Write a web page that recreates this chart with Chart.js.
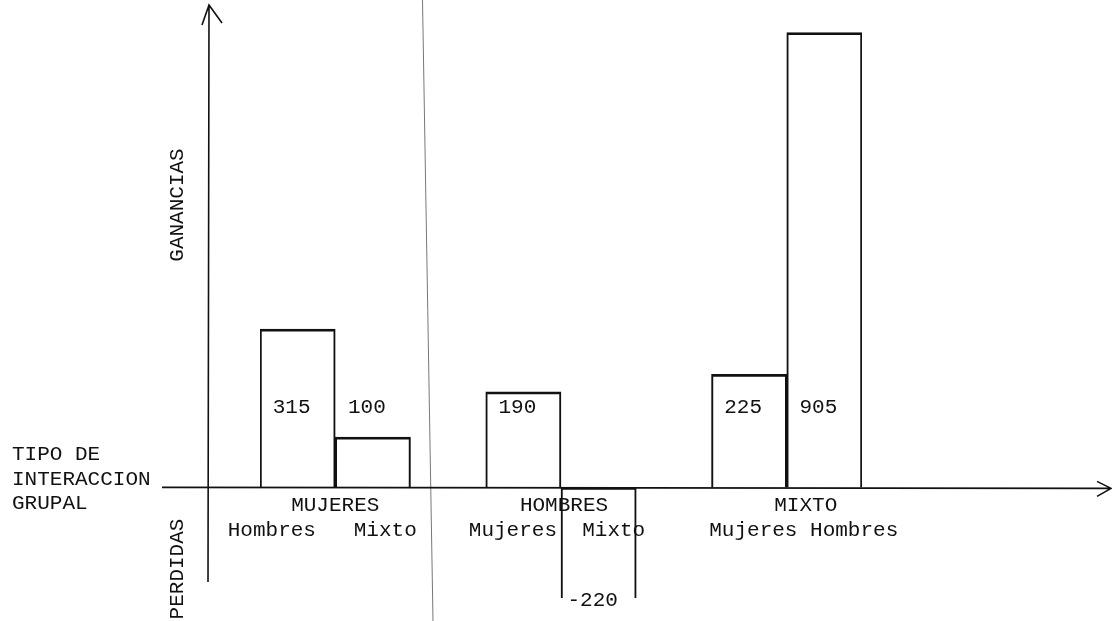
<!DOCTYPE html>
<html>
<head>
<meta charset="utf-8">
<script src="https://cdn.jsdelivr.net/npm/chart.js@4/dist/chart.umd.min.js"></script>
<style>
  body { margin: 0; background: #fff; }
  #caja { position: absolute; left: 0; top: 0; width: 1112px; height: 621px; }
</style>
</head>
<body>
<div id="caja"><canvas id="grafico"></canvas></div>
<script>
// datos
const categorias = ['MUJERES Hombres', 'MUJERES Mixto', '', 'HOMBRES Mujeres', 'HOMBRES Mixto', '', 'MIXTO Mujeres', 'MIXTO Hombres'];
const valores = [315, 100, null, 190, -220, null, 225, 905];
const grupos = ['MUJERES', 'HOMBRES', 'MIXTO'];
const subEtiquetas = ['Hombres   Mixto', 'Mujeres  Mixto', 'Mujeres Hombres'];
const ejeGanancias = 'GANANCIAS';
const ejePerdidas = 'PERDIDAS';
const tituloEje = ['TIPO DE', 'INTERACCION', 'GRUPAL'];

const fuente = '21px "Liberation Mono", "DejaVu Sans Mono", monospace';
const tinta = '#111';

// dibuja ejes, flechas y textos escritos a maquina
const dibujoPlugin = {
  id: 'dibujo',
  afterDraw(chart) {
    const ctx = chart.ctx;
    const x = chart.scales.x;
    const y = chart.scales.y;
    const base = y.getPixelForValue(0);

    ctx.save();
    // linea separadora fina
    ctx.strokeStyle = '#777';
    ctx.lineWidth = 1;
    ctx.beginPath();
    ctx.moveTo(422.5, 0);
    ctx.lineTo(433, 621);
    ctx.stroke();

    ctx.strokeStyle = tinta;
    ctx.lineWidth = 1.6;
    // eje vertical con flecha
    ctx.beginPath();
    ctx.moveTo(208, 582);
    ctx.lineTo(209, 5);
    ctx.moveTo(202, 25);
    ctx.lineTo(209, 5);
    ctx.lineTo(222, 23);
    ctx.stroke();
    // eje horizontal con flecha
    ctx.beginPath();
    ctx.moveTo(162, base);
    ctx.lineTo(1110, base + 1);
    ctx.moveTo(1097, base - 6);
    ctx.lineTo(1111, base + 1);
    ctx.lineTo(1097, base + 9);
    ctx.stroke();

    ctx.fillStyle = tinta;
    ctx.font = fuente;
    ctx.textBaseline = 'alphabetic';

    // valores dentro de las barras
    ctx.textAlign = 'center';
    const meta = chart.getDatasetMeta(0);
    valores.forEach((v, i) => {
      if (v === null) return;
      const bar = meta.data[i];
      const cx = bar.x - 6;
      if (v >= 0) {
        ctx.fillText(String(v), cx, base - 74);
      } else {
        ctx.fillText(String(v), cx, bar.y + 8);
      }
    });

    // nombres de grupo y subcategorias
    const ajusteTitulo = [0, 3, 19];
    const ajusteSub = [-13, -4, 17];
    grupos.forEach((g, k) => {
      const centro = (x.getPixelForValue(3 * k) + x.getPixelForValue(3 * k + 1)) / 2;
      ctx.fillText(g, centro + ajusteTitulo[k], base + 24);
      ctx.fillText(subEtiquetas[k], centro + ajusteSub[k], base + 49);
    });

    // titulo del eje horizontal
    ctx.textAlign = 'left';
    tituloEje.forEach((t, i) => {
      ctx.fillText(t, 12, 460 + i * 24.5);
    });

    // rotulos verticales
    ctx.textAlign = 'center';
    ctx.save();
    ctx.translate(183, 205);
    ctx.rotate(-Math.PI / 2);
    ctx.fillText(ejeGanancias, 0, 0);
    ctx.restore();
    ctx.save();
    ctx.translate(183, 569);
    ctx.rotate(-Math.PI / 2);
    ctx.fillText(ejePerdidas, 0, 0);
    ctx.restore();

    ctx.restore();
  }
};

const grafico = new Chart(document.getElementById('grafico'), {
  type: 'bar',
  data: {
    labels: categorias,
    datasets: [{
      data: valores,
      backgroundColor: 'rgba(255, 255, 255, 0)',
      borderColor: tinta,
      borderWidth: { top: 2, right: 1.4, bottom: 2, left: 1.4 },
      borderSkipped: c => (c.raw !== null && c.raw < 0) ? 'end' : 'start',
      barPercentage: 1,
      categoryPercentage: 1
    }]
  },
  options: {
    responsive: true,
    maintainAspectRatio: false,
    animation: false,
    layout: { padding: { left: 260, right: 250, top: 5, bottom: 8 } },
    scales: {
      x: { display: false },
      y: { display: false, min: -250, max: 960 }
    },
    plugins: {
      legend: { display: false },
      tooltip: { enabled: false }
    }
  },
  plugins: [dibujoPlugin]
});
</script>
</body>
</html>
